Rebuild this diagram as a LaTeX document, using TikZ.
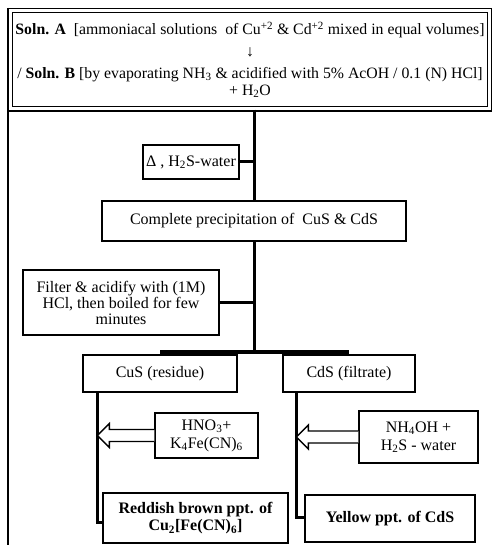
\documentclass[tikz,border=0pt]{standalone}
\usepackage{fontspec}
\setmainfont{Liberation Serif}
\usetikzlibrary{calc,shadows}

\tikzset{
  box/.style={draw, line width=1.3pt, fill=white, align=center, inner sep=2pt,
    font=\fontsize{16}{16}\selectfont,
    drop shadow={shadow xshift=1.2pt, shadow yshift=-1.2pt, opacity=0.25, fill=black}},
  reagent/.style={box, font=\fontsize{16}{18}\selectfont},
  link/.style={line width=3pt},
  hollow/.style={line width=1.3pt, fill=white, line join=miter},
}
% hollow reagent arrow: #1 reagent box, #2 branch line it points at
\newcommand\reagentarrow[2]{%
  \draw[hollow] ($(#1.west)+(0,-6)$) -- ($(#1.west -| #2)+(12,-6)$) -- ++(0,-6)
    -- ++(-12,12) -- ++(12,12) -- ++(0,-6) -- ($(#1.west)+(0,6)$);
}

\begin{document}
\begin{tikzpicture}[x=1pt, y=-1pt]
  \useasboundingbox (0,0) rectangle (492,545);

  % frame on the left
  \draw[line width=1.3pt] (8,8) -- (8,545);

  \node[box, double, double distance=3pt, line width=1.2pt, minimum width=479pt,
    minimum height=98.5pt, inner xsep=0pt, font=\fontsize{15.8}{15}\selectfont] (soln) at (250,59.75)
    {\textbf{Soln. A}\ \ [ammoniacal solutions \ of Cu\textsuperscript{+2} \& Cd\textsuperscript{+2} mixed in equal volumes]\\[7pt]
     ↓\\[7pt]
     / \textbf{Soln. B} [by evaporating NH\textsubscript{3} \& acidified with 5\% AcOH / 0.1 (N) HCl]\\[2pt]
     + H\textsubscript{2}O};

  \node[box, minimum width=96pt, minimum height=34pt] (heat) at (191,162)
    {Δ , H\textsubscript{2}S-water};
  \node[box, minimum width=304pt, minimum height=40pt] (prec) at (254,221)
    {Complete precipitation of \ CuS \& CdS};
  \node[box, minimum width=196pt, minimum height=65pt] (filt) at (121,302.5)
    {Filter \& acidify with (1M)\\HCl, then boiled for few\\minutes};

  \node[box, minimum width=154pt, minimum height=37pt] (cus) at (160,373.5) {CuS (residue)};
  \node[box, minimum width=132pt, minimum height=37pt] (cds) at (349,373.5) {CdS (filtrate)};

  % main trunk
  \draw[link] (soln.south -| prec.north) -- (prec.north);
  \draw[link] (heat.east) -- (heat.east -| prec.north);
  \draw[link] (prec.south) -- ($(prec.north |- cus.north)+(0,-2)$);
  \draw[link] (filt.east) -- (filt.east -| prec.south);
  \draw[line width=4pt] ($(cus.north)+(0,-2)$) -- ($(cds.north)+(0,-2)$);

  \node[reagent, minimum width=103pt, minimum height=45pt] (hno) at (206.5,435.5)
    {HNO\textsubscript{3}+\\K\textsubscript{4}Fe(CN)\textsubscript{6}};
  \node[reagent, minimum width=119pt, minimum height=52pt] (nh) at (418.5,437)
    {NH\textsubscript{4}OH +\\H\textsubscript{2}S - water};

  \node[box, minimum width=185pt, minimum height=50pt, font=\fontsize{16}{17}\selectfont\bfseries] (red) at (195.5,518)
    {Reddish brown ppt. of\\Cu\textsubscript{2}[Fe(CN)\textsubscript{6}]};
  \node[box, minimum width=170pt, minimum height=47pt, font=\fontsize{16}{16}\selectfont\bfseries] (yel) at (390,518.5)
    {Yellow ppt. of CdS};

  % branches
  \coordinate (cutop) at ($(cus.south west)+(15,0)$);
  \coordinate (cdtop) at ($(cds.south west)+(14,0)$);
  \draw[link] (cutop) |- ($(red.west)+(0,4)$);
  \draw[link] (cdtop) |- ($(yel.west)+(0,-1)$);
  \reagentarrow{hno}{cutop}
  \reagentarrow{nh}{cdtop}
\end{tikzpicture}
\end{document}
